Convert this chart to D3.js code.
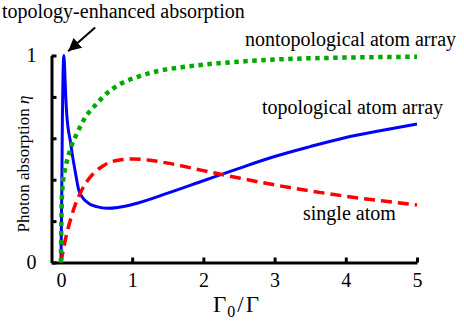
<!DOCTYPE html>
<html>
<head>
<meta charset="utf-8">
<script src="https://cdn.jsdelivr.net/npm/d3@7"></script>
<style>
  body { margin: 0; background: #fff; }
  svg { display: block; }
  .axis path, .axis line { stroke: #000; stroke-width: 3; }
</style>
</head>
<body>
<svg id="chart"></svg>
<script>
const FONT = 'Liberation Serif';

// tick values
const xTicks = [0, 1, 2, 3, 4, 5];
const yTicks = [0, 0.2, 0.4, 0.6, 0.8, 1];
const yTickLabels = ['0', '', '', '', '', '1'];

// single atom (red dashed)
const singleX = [0, 0.05, 0.1, 0.2, 0.3, 0.4, 0.5, 0.6, 0.8, 1, 1.25, 1.5, 2, 2.5, 3, 3.5, 4, 4.5, 5];
const singleY = [0, 0.091, 0.165, 0.278, 0.355, 0.408, 0.444, 0.469, 0.494, 0.5, 0.494, 0.48, 0.444, 0.408, 0.375, 0.346, 0.32, 0.298, 0.278];

// topological atom array (blue solid)
const topoX = [0, 0.01, 0.02, 0.03, 0.042, 0.05, 0.06, 0.07, 0.08, 0.1, 0.13, 0.16, 0.2, 0.25, 0.3, 0.4, 0.5, 0.65, 0.8, 1, 1.5, 2, 2.5, 3, 3.5, 4, 4.5, 5];
const topoY = [0, 0.3, 0.7, 0.93, 1.0, 0.95, 0.86, 0.78, 0.72, 0.65, 0.59, 0.52, 0.44, 0.35, 0.315, 0.283, 0.27, 0.262, 0.266, 0.28, 0.335, 0.395, 0.455, 0.512, 0.56, 0.604, 0.638, 0.669];

// nontopological atom array (green dotted)
const nonX = [0, 0.004, 0.01, 0.02, 0.035, 0.056, 0.1, 0.155, 0.22, 0.34, 0.51, 0.59, 0.83, 1.07, 1.3, 1.71, 2.42, 3.17, 4, 5];
const nonY = [0, 0.15, 0.28, 0.36, 0.41, 0.45, 0.51, 0.57, 0.62, 0.70, 0.77, 0.80, 0.862, 0.896, 0.92, 0.944, 0.968, 0.983, 0.99, 0.994];

const width = 464, height = 321;
const svg = d3.select('#chart').attr('width', width).attr('height', height);

const xScale = d3.scaleLinear().domain([-0.133, 5]).range([51.5, 417]);
const yScale = d3.scaleLinear().domain([0, 1]).range([262.5, 55.5]);

// axes, ticks pointing inward
const xAxis = d3.axisBottom(xScale)
  .tickValues(xTicks)
  .tickFormat(d3.format('d'))
  .tickSizeInner(-5)
  .tickSizeOuter(0)
  .tickPadding(10);

const yAxis = d3.axisLeft(yScale)
  .tickValues(yTicks)
  .tickFormat((d, i) => yTickLabels[i])
  .tickSizeInner(-5)
  .tickSizeOuter(0)
  .tickPadding(15);

svg.append('g')
  .attr('class', 'axis x-axis')
  .attr('transform', `translate(0,${yScale(0)})`)
  .call(xAxis)
  .attr('font-family', FONT)
  .attr('font-size', 20);

svg.append('g')
  .attr('class', 'axis y-axis')
  .attr('transform', `translate(${xScale.range()[0]},0)`)
  .call(yAxis)
  .attr('font-family', FONT)
  .attr('font-size', 20);

const line = d3.line()
  .x(d => xScale(d[0]))
  .y(d => yScale(d[1]))
  .curve(d3.curveMonotoneX);

const series = [
  {xs: topoX, ys: topoY, color: '#0000ff', width: 3, dash: null},
  {xs: singleX, ys: singleY, color: '#ff0000', width: 3.5, dash: '11,6'},
  {xs: nonX, ys: nonY, color: '#00aa00', width: 4.5, dash: '4.5,4.5'}
];

svg.selectAll('.curve')
  .data(series)
  .join('path')
    .attr('class', 'curve')
    .attr('fill', 'none')
    .attr('stroke', d => d.color)
    .attr('stroke-width', d => d.width)
    .attr('stroke-dasharray', d => d.dash)
    .attr('d', d => line(d.xs.map((x, i) => [x, d.ys[i]])));

// annotations
const notes = [
  {text: 'topology-enhanced absorption', x: 2, y: 18},
  {text: 'nontopological atom array', x: 245, y: 46},
  {text: 'topological atom array', x: 262, y: 114},
  {text: 'single atom', x: 303, y: 220}
];
svg.selectAll('.note')
  .data(notes)
  .join('text')
    .attr('class', 'note')
    .attr('x', d => d.x)
    .attr('y', d => d.y)
    .attr('font-family', FONT)
    .attr('font-size', 20)
    .text(d => d.text);

// arrow towards the peak
svg.append('defs').append('marker')
  .attr('id', 'head')
  .attr('viewBox', '0 0 10 10')
  .attr('refX', 10).attr('refY', 5)
  .attr('markerWidth', 13).attr('markerHeight', 13)
  .attr('markerUnits', 'userSpaceOnUse')
  .attr('orient', 'auto')
  .append('path').attr('d', 'M0,0 L10,5 L0,10 Z').attr('fill', '#000');

svg.append('line')
  .attr('x1', xScale(0.48)).attr('y1', yScale(1.135))
  .attr('x2', xScale(0.1)).attr('y2', yScale(1.02))
  .attr('stroke', '#000').attr('stroke-width', 2)
  .attr('marker-end', 'url(#head)');

// axis titles
const yTitle = svg.append('text')
  .attr('transform', 'translate(29,164) rotate(-90)')
  .attr('text-anchor', 'middle')
  .attr('font-family', FONT)
  .attr('font-size', 17);
yTitle.append('tspan').text('Photon absorption ');
yTitle.append('tspan').attr('font-style', 'italic').text('η');

const xTitle = svg.append('text')
  .attr('x', 213).attr('y', 312)
  .attr('font-family', FONT)
  .attr('font-size', 23);
xTitle.append('tspan').text('Γ');
xTitle.append('tspan').attr('dx', 1).attr('dy', 5).attr('font-size', 16).text('0');
xTitle.append('tspan').attr('dx', 2).attr('dy', -5).text('/');
xTitle.append('tspan').attr('dx', 2).text('Γ');
</script>
</body>
</html>
